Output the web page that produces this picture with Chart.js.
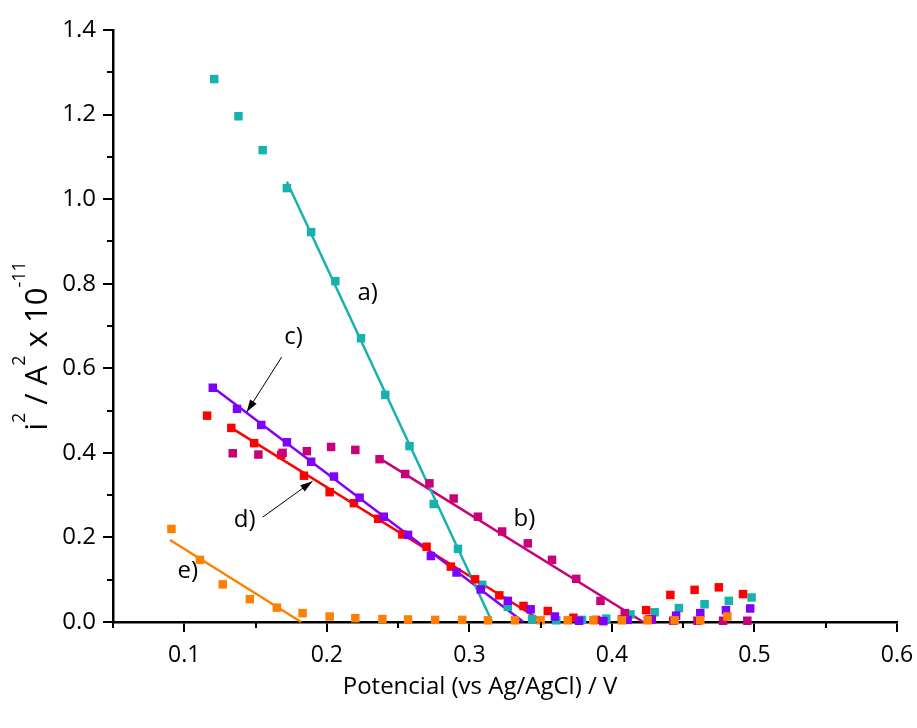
<!DOCTYPE html>
<html>
<head>
<meta charset="utf-8">
<script src="https://cdn.jsdelivr.net/npm/chart.js@4.4.1/dist/chart.umd.min.js"></script>
<style>
  html, body { margin: 0; padding: 0; background: #fff; }
  #wrap { width: 917px; height: 728px; }
</style>
</head>
<body>
<div id="wrap"><canvas id="chart" width="917" height="728"></canvas></div>
<script>
// --- data ---
var aX = [0.121,0.138,0.155,0.172,0.189,0.206,0.224,0.241,0.258,0.275,0.292,0.309,0.327,0.344,0.361,0.379,0.396,0.413,0.430,0.447,0.465,0.482,0.498];
var aY = [1.284,1.196,1.116,1.026,0.922,0.806,0.671,0.537,0.416,0.279,0.173,0.088,0.036,0.007,0.004,0.005,0.008,0.018,0.023,0.033,0.042,0.050,0.058];

var bX = [0.134,0.152,0.169,0.186,0.203,0.220,0.237,0.255,0.272,0.289,0.306,0.323,0.341,0.358,0.375,0.392,0.409,0.426,0.443,0.460,0.478,0.495];
var bY = [0.399,0.396,0.400,0.404,0.414,0.407,0.385,0.350,0.328,0.292,0.249,0.214,0.186,0.147,0.102,0.050,0.021,0.006,0.003,0.003,0.003,0.003];

var cX = [0.120,0.137,0.154,0.172,0.189,0.205,0.223,0.240,0.257,0.273,0.291,0.308,0.327,0.343,0.360,0.377,0.394,0.411,0.428,0.445,0.462,0.480,0.497];
var cY = [0.554,0.504,0.466,0.425,0.379,0.344,0.294,0.249,0.206,0.156,0.117,0.077,0.050,0.030,0.013,0.003,0.002,0.005,0.006,0.015,0.021,0.028,0.032];

var dX = [0.116,0.133,0.149,0.168,0.184,0.202,0.219,0.236,0.253,0.270,0.287,0.304,0.321,0.338,0.355,0.373,0.389,0.407,0.424,0.441,0.458,0.475,0.492];
var dY = [0.488,0.459,0.423,0.395,0.346,0.307,0.281,0.244,0.207,0.178,0.131,0.101,0.063,0.038,0.026,0.010,0.005,0.006,0.028,0.064,0.076,0.082,0.066];

var eX = [0.091,0.111,0.127,0.146,0.165,0.183,0.202,0.220,0.239,0.257,0.276,0.295,0.313,0.332,0.350,0.369,0.387,0.407,0.425,0.444,0.462,0.481];
var eY = [0.220,0.147,0.089,0.054,0.034,0.021,0.013,0.009,0.007,0.006,0.005,0.005,0.004,0.004,0.004,0.004,0.004,0.004,0.004,0.004,0.004,0.013];

// linear fits (end points)
var fitAX = [0.172, 0.316], fitAY = [1.041, 0];
var fitBX = [0.237, 0.422], fitBY = [0.387, 0];
var fitCX = [0.120, 0.338], fitCY = [0.555, 0];
var fitDX = [0.133, 0.352], fitDY = [0.459, 0];
var fitEX = [0.090, 0.182], fitEY = [0.194, 0];

var xTicks = [0.1, 0.2, 0.3, 0.4, 0.5, 0.6];
var xMinor = [0.05, 0.15, 0.25, 0.35, 0.45, 0.55];
var yTicks = [0.0, 0.2, 0.4, 0.6, 0.8, 1.0, 1.2, 1.4];
var yMinor = [0.1, 0.3, 0.5, 0.7, 0.9, 1.1, 1.3];

// curve labels and arrows (data coordinates)
var curveLabels = [
  { text: 'a)', x: 0.2286, y: 0.778 },
  { text: 'b)', x: 0.3386, y: 0.2435 },
  { text: 'c)', x: 0.1767, y: 0.674 },
  { text: 'd)', x: 0.1424, y: 0.241 },
  { text: 'e)', x: 0.1025, y: 0.1206 }
];
var arrows = [
  { x1: 0.1683, y1: 0.6265, x2: 0.1438, y2: 0.4965 },
  { x1: 0.1550, y1: 0.2480, x2: 0.1900, y2: 0.3330 }
];

var colA = '#17b2ae', colB = '#c8007a', colC = '#8000ff', colD = '#ff0000', colE = '#ff8000';

function pts(xs, ys) {
  var out = [];
  for (var i = 0; i < xs.length; i++) out.push({ x: xs[i], y: ys[i] });
  return out;
}
function scatterSet(xs, ys, col) {
  return { type: 'scatter', data: pts(xs, ys), pointStyle: 'rect', pointRadius: 6, pointHoverRadius: 6,
           backgroundColor: col, borderColor: col, borderWidth: 0, clip: false, order: 1 };
}
function fitSet(xs, ys, col) {
  return { type: 'line', data: pts(xs, ys), borderColor: col, borderWidth: 2.5, pointRadius: 0,
           fill: false, tension: 0, clip: false, order: 2 };
}

var FONT = "'Open Sans', sans-serif";

var extrasPlugin = {
  id: 'extras',
  afterDraw: function(chart) {
    var ctx = chart.ctx, xs = chart.scales.x, ys = chart.scales.y, ca = chart.chartArea;
    ctx.save();
    // minor ticks
    ctx.strokeStyle = '#000';
    ctx.lineWidth = 2;
    ctx.beginPath();
    xMinor.forEach(function(v) {
      var px = Math.round(xs.getPixelForValue(v));
      ctx.moveTo(px, ca.bottom); ctx.lineTo(px, ca.bottom + 6);
    });
    yMinor.forEach(function(v) {
      var py = Math.round(ys.getPixelForValue(v));
      ctx.moveTo(ca.left, py); ctx.lineTo(ca.left - 6, py);
    });
    ctx.stroke();

    // curve labels
    ctx.fillStyle = '#000';
    ctx.font = "24px " + FONT;
    ctx.textAlign = 'center';
    ctx.textBaseline = 'middle';
    curveLabels.forEach(function(l) {
      ctx.fillText(l.text, xs.getPixelForValue(l.x), ys.getPixelForValue(l.y));
    });

    // x axis title (a little left of centre, as in the original)
    ctx.font = "24px " + FONT;
    ctx.fillText('Potencial (vs Ag/AgCl) / V', 480, 687);

    // arrows
    ctx.lineWidth = 1;
    arrows.forEach(function(a) {
      var x1 = xs.getPixelForValue(a.x1), y1 = ys.getPixelForValue(a.y1);
      var x2 = xs.getPixelForValue(a.x2), y2 = ys.getPixelForValue(a.y2);
      var ang = Math.atan2(y2 - y1, x2 - x1);
      ctx.beginPath(); ctx.moveTo(x1, y1); ctx.lineTo(x2, y2); ctx.stroke();
      ctx.beginPath();
      ctx.moveTo(x2, y2);
      ctx.lineTo(x2 - 13 * Math.cos(ang - 0.3), y2 - 13 * Math.sin(ang - 0.3));
      ctx.lineTo(x2 - 13 * Math.cos(ang + 0.3), y2 - 13 * Math.sin(ang + 0.3));
      ctx.closePath(); ctx.fill();
    });

    // y axis title with superscripts
    var parts = [['i', 0], ['2', 1], [' / A', 0], ['2', 1], [' x 10', 0], ['-11', 1]];
    var big = "31px " + FONT, small = "18px " + FONT;
    var total = 0;
    parts.forEach(function(p) { ctx.font = p[1] ? small : big; total += ctx.measureText(p[0]).width; });
    ctx.translate(37, 346);
    ctx.rotate(-Math.PI / 2);
    ctx.textAlign = 'left';
    ctx.textBaseline = 'alphabetic';
    var cx = -total / 2;
    parts.forEach(function(p) {
      ctx.font = p[1] ? small : big;
      ctx.fillText(p[0], cx, p[1] ? -12 : 10);
      cx += ctx.measureText(p[0]).width;
    });
    ctx.restore();
  }
};

new Chart(document.getElementById('chart'), {
  data: {
    datasets: [
      fitSet(fitAX, fitAY, colA), fitSet(fitBX, fitBY, colB), fitSet(fitCX, fitCY, colC),
      fitSet(fitDX, fitDY, colD), fitSet(fitEX, fitEY, colE),
      scatterSet(eX, eY, colE), scatterSet(bX, bY, colB), scatterSet(cX, cY, colC),
      scatterSet(dX, dY, colD), scatterSet(aX, aY, colA)
    ]
  },
  options: {
    responsive: false,
    animation: false,
    layout: { padding: { top: 30, right: 20, left: 0, bottom: 0 } },
    plugins: { legend: { display: false }, tooltip: { enabled: false } },
    scales: {
      x: {
        type: 'linear', min: 0.05, max: 0.6,
        afterBuildTicks: function(s) { s.ticks = xTicks.map(function(v) { return { value: v }; }); },
        afterFit: function(s) { s.height = 106; s.paddingLeft = 0; s.paddingRight = 0; },
        grid: { drawOnChartArea: false, color: '#000', lineWidth: 2, tickLength: 10 },
        border: { color: '#000', width: 2.5 },
        ticks: { color: '#000', padding: 10, maxRotation: 0, font: { family: FONT, size: 23 },
                 callback: function(v) { return v.toFixed(1); } }
      },
      y: {
        type: 'linear', min: 0, max: 1.4,
        afterBuildTicks: function(s) { s.ticks = yTicks.map(function(v) { return { value: v }; }); },
        afterFit: function(s) { s.width = 113; s.paddingTop = 0; s.paddingBottom = 0; },
        grid: { drawOnChartArea: false, color: '#000', lineWidth: 2, tickLength: 10 },
        border: { color: '#000', width: 2.5 },
        ticks: { color: '#000', padding: 7, font: { family: FONT, size: 24 },
                 callback: function(v) { return v.toFixed(1); } }
      }
    }
  },
  plugins: [extrasPlugin]
});
</script>
</body>
</html>
